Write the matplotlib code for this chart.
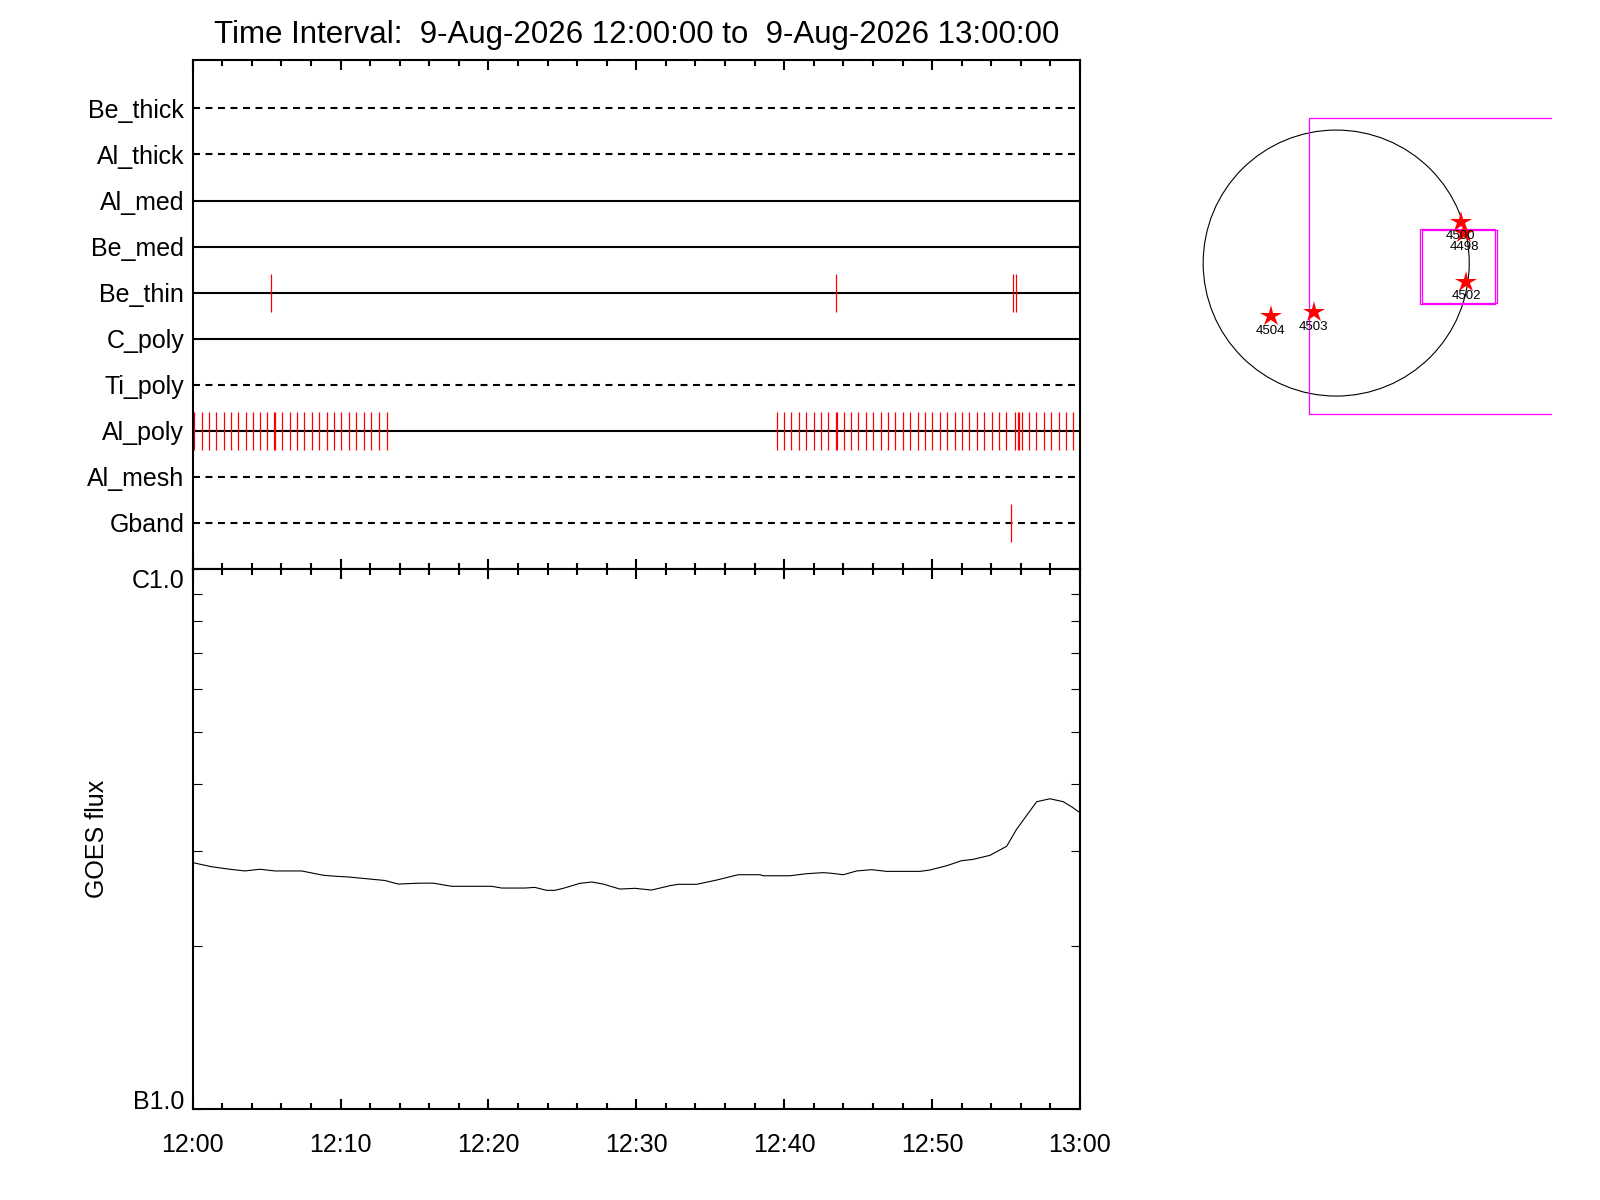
import matplotlib
matplotlib.use("Agg")
import matplotlib.pyplot as plt
import matplotlib.patches as patches
from matplotlib.ticker import MultipleLocator, LogLocator, NullFormatter
import numpy as np

plt.rcParams['font.family'] = ['Liberation Sans', 'DejaVu Sans']
plt.rcParams['lines.scale_dashes'] = False

title = "Time Interval:  9-Aug-2026 12:00:00 to  9-Aug-2026 13:00:00"

# filter channels, top to bottom
channels = ['Be_thick', 'Al_thick', 'Al_med', 'Be_med', 'Be_thin',
            'C_poly', 'Ti_poly', 'Al_poly', 'Al_mesh', 'Gband']
dashed = [True, True, False, False, False, False, True, False, True, True]

# exposure times (minutes after 12:00)
be_thin_times = [5.29, 43.5, 55.5, 55.69]
gband_times = [55.35]
al_poly_times = [0.12, 0.61, 1.08, 1.60, 2.10, 2.57, 3.08, 3.58, 4.10, 4.57,
                 5.04, 5.47, 5.56, 6.06, 6.56, 7.06, 7.56, 8.09, 8.56, 9.06,
                 9.56, 10.05, 10.57, 11.06, 11.56, 12.08, 12.62, 13.12,
                 39.53, 40.00, 40.47, 41.01, 41.49, 42.03, 42.50, 42.98,
                 43.50, 43.58, 44.06, 44.53, 45.00, 45.54, 46.02, 46.56,
                 47.03, 47.50, 48.04, 48.52, 49.06, 49.53, 50.01, 50.55,
                 51.02, 51.56, 52.04, 52.51, 53.05, 53.52, 54.06, 54.54,
                 55.01, 55.62, 55.80, 55.88, 56.09, 56.56, 57.04, 57.58,
                 58.05, 58.59, 59.07, 59.55]
exposures = {'Be_thin': be_thin_times, 'Al_poly': al_poly_times, 'Gband': gband_times}

# GOES flux (units of 1e-7 W/m^2)
goes_min = [0.0, 1.28, 2.52, 3.54, 4.55, 5.56, 7.37, 8.83, 9.51, 10.52, 11.76,
            13.0, 13.9, 15.37, 16.27, 17.51, 20.22, 20.89, 22.47, 23.14, 23.93,
            24.5, 25.06, 26.19, 26.98, 27.76, 28.89, 29.9, 31.03, 32.27, 32.83,
            34.08, 35.43, 36.89, 38.36, 38.58, 40.39, 41.52, 42.64, 43.2, 43.99,
            44.9, 45.91, 46.92, 49.18, 49.85, 50.98, 51.99, 52.78, 53.91, 55.04,
            55.71, 57.07, 57.97, 58.87, 59.43, 60.0]
goes_flux = [2.86, 2.81, 2.78, 2.76, 2.78, 2.76, 2.76, 2.71, 2.70, 2.69, 2.67,
             2.65, 2.61, 2.62, 2.62, 2.585, 2.585, 2.566, 2.566, 2.573, 2.541,
             2.541, 2.563, 2.618, 2.633, 2.610, 2.555, 2.563, 2.544, 2.592, 2.607,
             2.607, 2.655, 2.716, 2.716, 2.704, 2.704, 2.728, 2.740, 2.733, 2.716,
             2.760, 2.775, 2.755, 2.755, 2.771, 2.822, 2.883, 2.900, 2.950, 3.066,
             3.296, 3.708, 3.755, 3.708, 3.629, 3.538]
time_ticks = [0, 10, 20, 30, 40, 50, 60]
time_labels = ['12:00', '12:10', '12:20', '12:30', '12:40', '12:50', '13:00']

# active regions on the disk (arcsec)
ar_names = ['4500', '4498', '4502', '4503', '4504']
ar_x = [889, 915, 929, -159, -468]
ar_y = [295, 216, -134, -350, -379]
# fields of view: x0, x1, y0, y1 (arcsec)
fov_big = [-192, 1921, -1079, 1034]
fov_small = [[599, 1134, -293, 243], [613, 1146, -286, 234]]
r_sun = 950

fig = plt.figure(figsize=(16, 12), dpi=100)

# ---- filter timeline ----
ax1 = fig.add_axes([0.1204, 0.5258, 0.5546, 0.4242])
for i, name in enumerate(channels):
    y = len(channels) - 1 - i
    ls = (0, (5, 4)) if dashed[i] else '-'
    ax1.axhline(y, color='black', lw=1.5, ls=ls)
    if name in exposures:
        ax1.vlines(exposures[name], y - 0.41, y + 0.41, color='red', lw=0.9)
ax1.set_ylim(-1, 10.05)
ax1.set_yticks(range(len(channels) - 1, -1, -1))
ax1.set_yticklabels(channels, fontsize=18)
ax1.tick_params(axis='y', length=0, pad=6)
ax1.set_xlim(0, 60)
ax1.set_xticks(time_ticks)
ax1.xaxis.set_minor_locator(MultipleLocator(2))
ax1.tick_params(axis='x', which='major', direction='in', length=7.5, width=1.5,
                top=True, bottom=True, labelbottom=False)
ax1.tick_params(axis='x', which='minor', direction='in', length=4, width=1.5,
                top=True, bottom=True)
for s in ax1.spines.values():
    s.set_linewidth(1.5)

# ---- GOES flux ----
ax2 = fig.add_axes([0.1204, 0.0758, 0.5546, 0.45])
ax2.semilogy(goes_min, np.array(goes_flux) * 1e-7, color='black', lw=0.8)
ax2.set_ylim(1e-7, 1e-6)
ax2.set_yticks([1e-7, 1e-6])
ax2.set_yticklabels(['B1.0', 'C1.0'], fontsize=18)
ax2.yaxis.set_minor_locator(LogLocator(base=10, subs=np.arange(2, 10)))
ax2.yaxis.set_minor_formatter(NullFormatter())
ax2.tick_params(axis='y', which='both', direction='in', length=6.5, width=0.8,
                left=True, right=True, pad=6)
tl = ax2.get_yticklabels()
tl[0].set_va('baseline')
tl[1].set_va('top')
ax2.set_xlim(0, 60)
ax2.set_xticks(time_ticks)
ax2.set_xticklabels(time_labels, fontsize=18)
ax2.xaxis.set_minor_locator(MultipleLocator(2))
ax2.tick_params(axis='x', which='major', direction='in', length=7.5, width=1.5,
                top=True, bottom=True, pad=17)
ax2.tick_params(axis='x', which='minor', direction='in', length=4, width=1.5,
                top=True, bottom=True)
for s in ax2.spines.values():
    s.set_linewidth(1.5)

fig.text(97 / 1600, 0.3008, 'GOES flux', rotation=90, fontsize=18,
         ha='center', va='center')
fig.text(0.3977, 1 - 35 / 1200, title, fontsize=22.5, ha='center', va='center')

# ---- solar disk ----
ax3 = fig.add_axes([0.74375, 0.65, 0.22625, 0.2583])
ax3.axis('off')
ax3.set_xlim(-1044, 1541)
ax3.set_ylim(-1121, 1093)
ax3.add_patch(patches.Circle((0, 0), r_sun, fill=False, color='black', lw=0.8))
ax3.add_patch(patches.Rectangle((fov_big[0], fov_big[2]), fov_big[1] - fov_big[0],
                                fov_big[3] - fov_big[2], fill=False,
                                edgecolor='magenta', lw=0.9))
for x0, x1, y0, y1 in fov_small:
    ax3.add_patch(patches.Rectangle((x0, y0), x1 - x0, y1 - y0, fill=False,
                                    edgecolor='magenta', lw=0.9))
ax3.plot(ar_x, ar_y, '*', color='red', markersize=16, markeredgewidth=0)
for name, x, y in zip(ar_names, ar_x, ar_y):
    ax3.annotate(name, (x, y), xytext=(0, -10.5), textcoords='offset points',
                 ha='center', va='center', fontsize=9.5)

fig.savefig('out.png', dpi=100)
